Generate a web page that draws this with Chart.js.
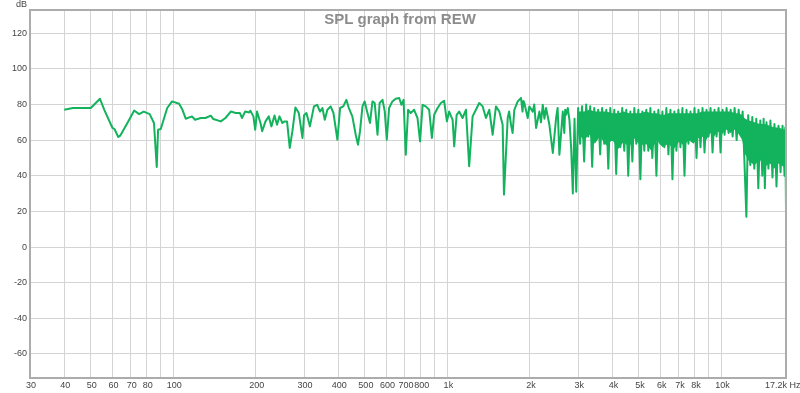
<!DOCTYPE html>
<html>
<head>
<meta charset="utf-8">
<script src="https://cdn.jsdelivr.net/npm/chart.js@4.4.0/dist/chart.umd.min.js"></script>
<style>
html,body{margin:0;padding:0;background:#fff;}
canvas{display:block;}
</style>
</head>
<body>
<canvas id="spl" width="800" height="393"></canvas>
<script>
// frequency (Hz) / level (dB)
const freqs = [
    40, 43, 50, 54, 56, 60, 61, 63, 64, 68, 72, 75, 78, 82, 85, 87, 88, 90, 95, 99,
    105, 108, 111, 117, 120, 126, 131, 137, 140, 149, 155, 162, 169, 175, 178, 183, 189, 191, 196, 199,
    202, 208, 211, 217, 223, 228, 234, 239, 244, 250, 255, 260, 266, 272, 279, 287, 296, 300, 306, 315,
    326, 335, 343, 350, 357, 365, 375, 384, 397, 406, 417, 428, 437, 450, 463, 472, 480, 490, 499, 511,
    522, 533, 543, 556, 566, 580, 591, 601, 613, 630, 648, 667, 680, 692, 705, 719, 735, 756, 778, 795,
    812, 834, 858, 878, 895, 921, 947, 973, 996, 1015, 1045, 1059, 1081, 1104, 1136, 1169, 1201, 1236, 1271, 1307,
    1345, 1383, 1422, 1463, 1504, 1547, 1591, 1609, 1660, 1680, 1707, 1730, 1755, 1806, 1857, 1880, 1895, 1909, 1964, 1991,
    2049, 2075, 2107, 2166, 2195, 2229, 2260, 2291, 2356, 2425, 2493, 2525, 2563, 2637, 2670, 2690, 2711, 2750, 2788, 2830,
    2869, 2910, 2953,
    3000, 3050, 3100, 3155, 3210, 3265, 3320, 3375, 3435, 3490, 3550, 3610, 3670, 3735, 3800, 3865, 3930, 3995, 4065, 4130,
    4200, 4275, 4345, 4420, 4495, 4570, 4650, 4730, 4810, 4890, 4975, 5060, 5145, 5230, 5320, 5410, 5505, 5595, 5690, 5790,
    5885, 5985, 6090, 6190, 6295, 6405, 6515, 6625, 6735, 6850, 6965, 7085, 7205, 7330, 7455, 7580, 7710, 7840, 7975, 8110,
    8245, 8385, 8530, 8675, 8820, 8970, 9125, 9280, 9435, 9600, 9760, 9925, 10095, 10265, 10440, 10620, 10800, 10985, 11170, 11360,
    11555, 11750, 11950, 12330, 12520, 12740, 12960, 13180, 13400, 13630, 13860, 14100, 14250, 14400, 14600, 14840, 15090, 15350, 15610, 15880,
    16150, 16430, 16710, 16990, 17100, 17200
];
const spl = [
    77, 78, 78, 83.2, 77, 66.8, 66.2, 61.7, 62.5, 69.6, 76.6, 74.6, 76, 74.6, 69.6, 44.9, 65.8, 66.2, 78, 81.7,
    80.4, 77, 72, 73.3, 71.4, 72.4, 72.4, 73.7, 71.8, 70.5, 72.4, 76, 75.2, 75.2, 72.4, 76, 75.5, 76.5, 73.3, 65.8,
    76, 69.6, 65, 70.5, 73.3, 67.7, 73.8, 68.6, 73.3, 69.6, 70.5, 70.5, 55.6, 65, 78.3, 75.2, 61.2, 74, 75.2, 67.7,
    78.9, 79.8, 76, 78, 71.4, 77, 78.9, 75.2, 60.2, 78, 78.9, 82.6, 78, 73.3, 63, 57.4, 65, 78.9, 81.7, 75.2,
    69.6, 81.7, 80.8, 63, 80.8, 82.6, 76, 60.2, 78, 81.7, 83.2, 83.6, 79.8, 82.6, 51.8, 77, 75.2, 77, 72.4, 59.3,
    79.8, 78.9, 77, 61.2, 74.2, 78, 80.8, 82, 70.5, 76, 71.4, 56.5, 74.2, 76, 72.4, 77, 45.3, 73.3, 77, 80.8,
    78.9, 72.4, 77, 63, 78.9, 76, 68.6, 29.4, 72.4, 76, 68.6, 64, 77, 81.7, 83.6, 76, 82, 80.8, 72.4, 78.9,
    76, 80, 66.8, 76, 70, 79.8, 72, 78, 68.6, 52.8, 72.4, 78, 51.8, 76, 64, 77, 74.2, 78, 71.4, 55,
    30, 72, 31,
    78, 58, 79, 48, 80, 62, 79, 45, 78, 60, 77, 52, 78, 58, 77, 44, 78, 60, 77, 41,
    76, 56, 78, 54, 77, 40, 76, 48, 78, 58, 77, 38, 76, 54, 77, 54, 78, 50, 76, 40,
    77, 58, 76, 56, 78, 52, 77, 38, 76, 54, 77, 56, 78, 40, 77, 58, 76, 60, 78, 50,
    77, 56, 78, 53, 77, 62, 78, 53, 77, 62, 78, 53, 77, 63, 78, 64, 77, 62, 78, 60,
    77, 63, 76, 17, 74, 46, 73, 44, 72, 33, 71, 40, 72, 33, 70, 44, 71, 39, 69, 34,
    68, 42, 68, 40, 67, 21
];
// solid core of the dense high-frequency band
const bandFreqs = [2980, 3150, 3300, 3450, 3600, 3800, 4000, 4200, 4400, 4600, 4800, 5050, 5300, 5550, 5800, 6100, 6400, 6700, 7000, 7300, 7600, 7900,
    8200, 8500, 8800, 9100, 9400, 9700, 10000, 10400, 10800, 11200, 11600, 11900, 12200, 12600, 13200, 13800, 14400, 15000, 15600, 16200, 16800, 17150];
const bandHigh = [76, 76, 77, 76, 76, 76, 75, 75, 76, 75, 75, 75, 76, 75, 75, 74, 75, 75, 75, 75, 75, 75,
    75, 76, 76, 76, 76, 76, 76, 76, 76, 75, 75, 74, 72, 71, 70, 69, 69, 68, 67, 67, 66, 66];
const bandLow = [64, 60, 63, 58, 62, 57, 60, 55, 59, 56, 61, 57, 58, 54, 60, 56, 58, 55, 59, 57, 60, 58,
    61, 62, 60, 64, 62, 65, 63, 66, 64, 66, 63, 60, 52, 48, 46, 49, 45, 47, 44, 47, 45, 48];

const yTicks = [-60, -40, -20, 0, 20, 40, 60, 80, 100, 120];
const xGrid = [30, 40, 50, 60, 70, 80, 90, 100, 200, 300, 400, 500, 600, 700, 800, 900,
    1000, 2000, 3000, 4000, 5000, 6000, 7000, 8000, 9000, 10000];
const xLabelValues = [30, 40, 50, 60, 70, 80, 100, 200, 300, 400, 500, 600, 700, 800,
    1000, 2000, 3000, 4000, 5000, 6000, 7000, 8000, 10000, 17200];
const xLabelText = ['30', '40', '50', '60', '70', '80', '100', '200', '300', '400', '500', '600', '700', '800',
    '1k', '2k', '3k', '4k', '5k', '6k', '7k', '8k', '10k', '17.2k Hz'];

const FONT = '"Liberation Sans", Arial, sans-serif';
const GREEN = '#12b35c';

// frame, title, x labels, dB label
const rewDecor = {
    id: 'rewDecor',
    beforeDraw(chart) {
        const ctx = chart.ctx;
        ctx.save();
        ctx.fillStyle = '#ffffff';
        ctx.fillRect(0, 0, chart.width, chart.height);
        ctx.restore();
    },
    afterDraw(chart) {
        const ctx = chart.ctx;
        const a = chart.chartArea;
        const x = chart.scales.x;
        ctx.save();
        ctx.strokeStyle = '#acacac';
        ctx.lineWidth = 2;
        ctx.strokeRect(a.left, a.top, a.right - a.left, a.bottom - a.top);

        ctx.font = '9px ' + FONT;
        ctx.fillStyle = '#444444';
        ctx.textBaseline = 'middle';
        xLabelValues.forEach((v, i) => {
            const px = x.getPixelForValue(v);
            const last = i === xLabelValues.length - 1;
            ctx.textAlign = last ? 'left' : 'center';
            ctx.fillText(xLabelText[i], last ? px - 21 : px + 1, a.bottom + 8);
        });

        ctx.textAlign = 'right';
        ctx.fillText('dB', 27, 5);

        ctx.font = 'bold 15px ' + FONT;
        ctx.fillStyle = '#8c8c8c';
        ctx.textAlign = 'center';
        ctx.textBaseline = 'alphabetic';
        ctx.fillText('SPL graph from REW', 400, 24);
        ctx.restore();
    }
};

const pts = (xs, ys) => xs.map((f, i) => ({ x: f, y: ys[i] }));

new Chart(document.getElementById('spl'), {
    type: 'line',
    data: {
        datasets: [{
            data: pts(freqs, spl),
            borderColor: GREEN,
            borderWidth: 2,
            borderJoinStyle: 'round',
            pointRadius: 0,
            tension: 0,
            fill: false
        }, {
            data: pts(bandFreqs, bandHigh),
            borderWidth: 0,
            pointRadius: 0,
            fill: false
        }, {
            data: pts(bandFreqs, bandLow),
            borderWidth: 0,
            pointRadius: 0,
            backgroundColor: GREEN,
            fill: '-1'
        }]
    },
    options: {
        responsive: false,
        animation: false,
        events: [],
        layout: { padding: { top: 10, right: 14, left: 0, bottom: 0 } },
        plugins: { legend: { display: false }, tooltip: { enabled: false } },
        scales: {
            x: {
                type: 'logarithmic',
                min: 30,
                max: 17200,
                afterBuildTicks: s => { s.ticks = xGrid.map(v => ({ value: v })); },
                afterFit: s => { s.height = 15; s.paddingLeft = 0; s.paddingRight = 0; },
                ticks: { display: false },
                grid: { color: '#d4d4d4', drawTicks: false },
                border: { display: false }
            },
            y: {
                min: -73.5,
                max: 133,
                afterBuildTicks: s => { s.ticks = yTicks.map(v => ({ value: v })); },
                afterFit: s => { s.width = 30; },
                ticks: { font: { size: 9, family: FONT }, color: '#444444', padding: 3 },
                grid: { color: '#d4d4d4', drawTicks: false },
                border: { display: false }
            }
        }
    },
    plugins: [rewDecor]
});
</script>
</body>
</html>
